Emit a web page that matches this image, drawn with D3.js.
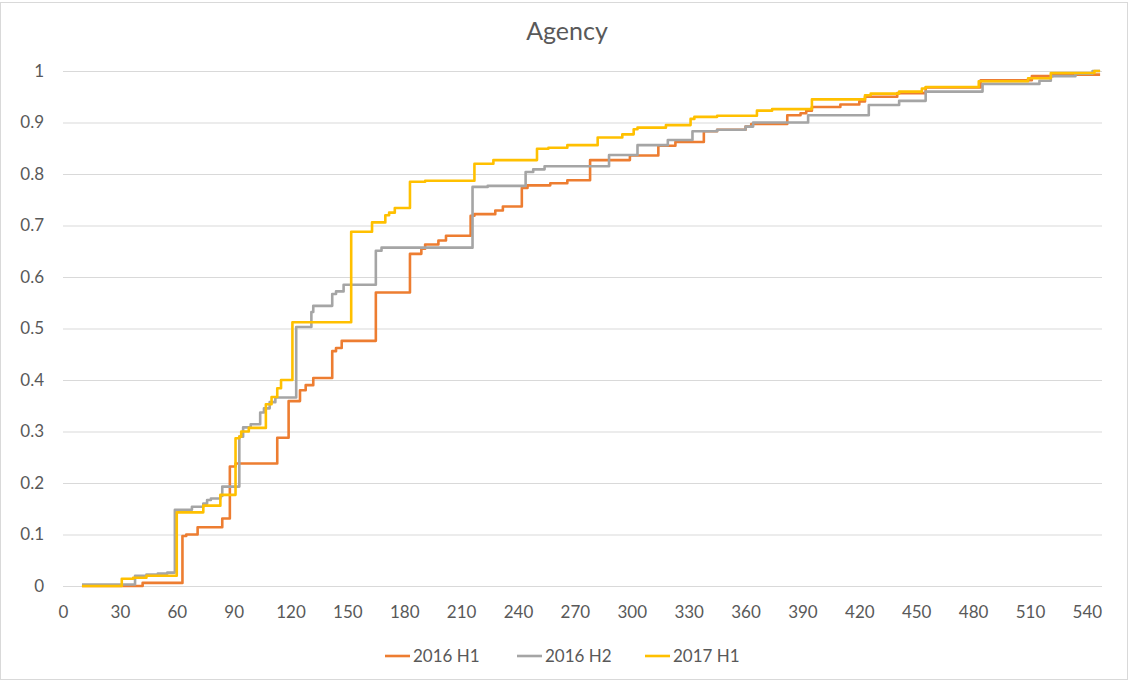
<!DOCTYPE html>
<html>
<head>
<meta charset="utf-8">
<script src="https://cdn.jsdelivr.net/npm/d3@7"></script>
<style>
  body { margin: 0; background: #fff; }
  text { font-family: "Lato", "Liberation Sans", sans-serif; fill: #595959; }
</style>
</head>
<body>
<script>
// cumulative share by day, [day, value] break points (step after)
const h1_2016 = [
    [10, 0], [42, 0.006], [63, 0.097], [65, 0.1], [71, 0.114], [84, 0.131], [88, 0.232], [91, 0.238],
    [113, 0.288], [119, 0.359], [125, 0.38], [128, 0.39], [132, 0.404], [142, 0.456], [144, 0.462],
    [147, 0.476], [165, 0.57], [183, 0.645], [189, 0.655], [191, 0.663], [198, 0.671], [202, 0.68],
    [215, 0.719], [217, 0.722], [228, 0.729], [232, 0.737], [242, 0.773], [245, 0.778], [257, 0.782],
    [266, 0.788], [278, 0.827], [299, 0.836], [314, 0.855], [323, 0.862], [338, 0.883], [345, 0.886],
    [360, 0.892], [363, 0.897], [382, 0.914], [389, 0.918], [392, 0.923], [395, 0.93], [410, 0.935],
    [420, 0.941], [423, 0.95], [440, 0.957], [455, 0.968], [484, 0.982], [511, 0.99], [522, 0.993],
    [547, 0.993]
];
const h2_2016 = [
    [10, 0.003], [38, 0.02], [44, 0.022], [50, 0.024], [55, 0.026], [59, 0.148], [68, 0.154],
    [74, 0.16], [76, 0.167], [78, 0.17], [83, 0.175], [84, 0.193], [93, 0.29], [95, 0.308],
    [99, 0.314], [104, 0.337], [106, 0.345], [109, 0.357], [112, 0.366], [123, 0.503], [131, 0.532],
    [132, 0.544], [142, 0.567], [144, 0.572], [148, 0.585], [165, 0.651], [168, 0.657], [216, 0.775],
    [224, 0.777], [244, 0.804], [248, 0.809], [254, 0.815], [288, 0.837], [303, 0.856], [319, 0.866],
    [332, 0.883], [345, 0.886], [360, 0.892], [364, 0.9], [393, 0.914], [425, 0.934], [441, 0.942],
    [455, 0.96], [485, 0.975], [515, 0.981], [521, 0.99], [534, 0.995], [543, 1.0], [547, 1.0]
];
const h1_2017 = [
    [10, 0], [31, 0.014], [37, 0.016], [44, 0.02], [60, 0.143], [74, 0.156], [83, 0.177], [91, 0.287],
    [93, 0.29], [94, 0.3], [98, 0.307], [107, 0.353], [110, 0.367], [113, 0.384], [115, 0.4],
    [121, 0.512], [152, 0.688], [163, 0.706], [170, 0.72], [172, 0.725], [175, 0.734], [183, 0.785],
    [191, 0.787], [217, 0.82], [227, 0.827], [250, 0.849], [256, 0.851], [266, 0.856], [282, 0.871],
    [295, 0.877], [301, 0.887], [303, 0.89], [318, 0.895], [331, 0.907], [333, 0.911], [345, 0.913],
    [366, 0.923], [374, 0.926], [395, 0.945], [423, 0.953], [426, 0.956], [441, 0.96], [453, 0.966],
    [455, 0.969], [483, 0.98], [509, 0.986], [521, 0.996], [544, 1.0], [547, 1.0]
];

const seriesNames = ["2016 H1", "2016 H2", "2017 H1"];
const seriesColors = ["#ED7D31", "#A5A5A5", "#FFC000"];
const seriesData = [h1_2016, h2_2016, h1_2017];

const xTicks = d3.range(0, 541, 30);
const yTicks = d3.range(0, 11).map(d => d / 10);

const width = 1130, height = 682;
const margin = {top: 71, right: 28, bottom: 96, left: 63};

const svg = d3.select("body").append("svg")
    .attr("width", width)
    .attr("height", height);

// chart border
svg.append("rect")
    .attr("x", 0.5).attr("y", 2.5)
    .attr("width", 1127).attr("height", 677)
    .attr("fill", "none")
    .attr("stroke", "#d9d9d9");

const xScale = d3.scaleLinear()
    .domain([0, 548])
    .range([margin.left, width - margin.right]);
const yScale = d3.scaleLinear()
    .domain([0, 1])
    .range([586, margin.top]);

// horizontal grid lines
svg.append("g")
    .attr("class", "grid")
    .attr("transform", "translate(" + margin.left + ",0)")
    .call(d3.axisLeft(yScale)
        .tickValues(yTicks)
        .tickSize(-(xScale.range()[1] - margin.left))
        .tickFormat(""))
    .call(g => g.select(".domain").remove())
    .call(g => g.selectAll("line").attr("stroke", "#d9d9d9"));

// y labels
svg.append("g")
    .attr("transform", "translate(" + (margin.left - 16) + ",0)")
    .call(d3.axisLeft(yScale).tickValues(yTicks).tickSize(0).tickFormat(d => d3.format("")(d)))
    .call(g => g.select(".domain").remove())
    .call(g => g.selectAll("text").style("font-size", "17px").attr("fill", "#595959"));

// x labels
svg.append("g")
    .attr("transform", "translate(0," + (yScale(0) + 17) + ")")
    .call(d3.axisBottom(xScale).tickValues(xTicks).tickSize(0))
    .call(g => g.select(".domain").remove())
    .call(g => g.selectAll("text").style("font-size", "17px").attr("fill", "#595959"));

// lines
const line = d3.line()
    .curve(d3.curveStepAfter)
    .x(d => xScale(d[0]))
    .y(d => yScale(d[1]));

seriesData.forEach((data, i) => {
    svg.append("path")
        .datum(data)
        .attr("fill", "none")
        .attr("stroke", seriesColors[i])
        .attr("stroke-width", 2.6)
        .attr("stroke-linejoin", "round")
        .attr("d", line);
});

// title
svg.append("text")
    .attr("x", 567)
    .attr("y", 40)
    .attr("text-anchor", "middle")
    .style("font-size", "25px")
    .text("Agency");

// legend
const legendX = [385, 517, 645];
seriesNames.forEach((name, i) => {
    const g = svg.append("g").attr("transform", "translate(" + legendX[i] + ",656)");
    g.append("line")
        .attr("x1", 0).attr("x2", 25)
        .attr("stroke", seriesColors[i])
        .attr("stroke-width", 2.6);
    g.append("text")
        .attr("x", 28)
        .attr("dy", "0.35em")
        .style("font-size", "17px")
        .text(name);
});
</script>
</body>
</html>
